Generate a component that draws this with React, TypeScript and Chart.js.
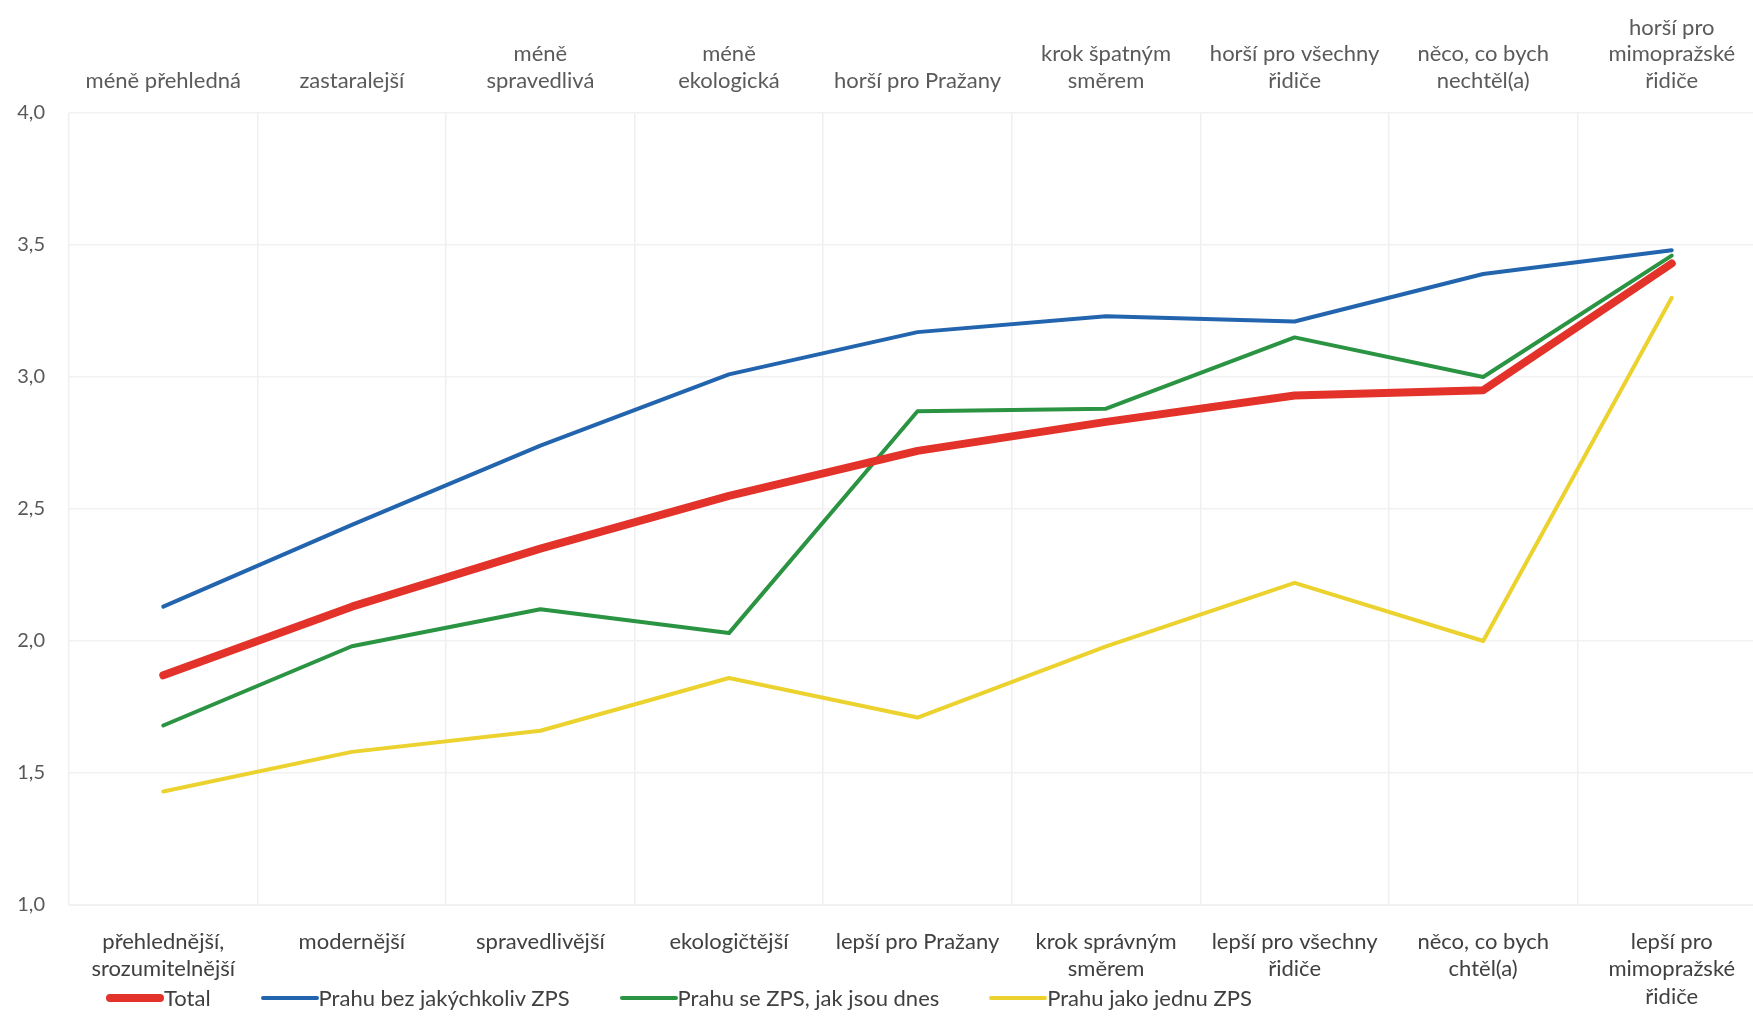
import React, { useEffect, useRef } from "react";
import { Chart, registerables } from "chart.js";

Chart.register(...registerables);

const bottomLabels: (string | string[])[] = [
  ["přehlednější,", "srozumitelnější"],
  "modernější",
  "spravedlivější",
  "ekologičtější",
  "lepší pro Pražany",
  ["krok správným", "směrem"],
  ["lepší pro všechny", "řidiče"],
  ["něco, co bych", "chtěl(a)"],
  ["lepší pro", "mimopražské", "řidiče"],
];

const topLabels: (string | string[])[] = [
  "méně přehledná",
  "zastaralejší",
  ["méně", "spravedlivá"],
  ["méně", "ekologická"],
  "horší pro Pražany",
  ["krok špatným", "směrem"],
  ["horší pro všechny", "řidiče"],
  ["něco, co bych", "nechtěl(a)"],
  ["horší pro", "mimopražské", "řidiče"],
];

const totalValues = [1.87, 2.13, 2.35, 2.55, 2.72, 2.83, 2.93, 2.95, 3.43];
const bezZpsValues = [2.13, 2.44, 2.74, 3.01, 3.17, 3.23, 3.21, 3.39, 3.48];
const seZpsValues = [1.68, 1.98, 2.12, 2.03, 2.87, 2.88, 3.15, 3.0, 3.46];
const jednaZpsValues = [1.43, 1.58, 1.66, 1.86, 1.71, 1.98, 2.22, 2.0, 3.3];

const seriesNames = [
  "Total",
  "Prahu bez jakýchkoliv ZPS",
  "Prahu se ZPS, jak jsou dnes",
  "Prahu jako jednu ZPS",
];
const seriesColors = ["#e2322a", "#2264ad", "#2b9443", "#ecd22e"];
const seriesWidths = [8, 4, 4, 4];

const yTicks = [1.0, 1.5, 2.0, 2.5, 3.0, 3.5, 4.0];

const FONT = "Lato, 'Open Sans', sans-serif";

export default function App() {
  const canvasRef = useRef<HTMLCanvasElement | null>(null);

  useEffect(() => {
    document.body.style.margin = "0";
    const ctx = canvasRef.current;
    if (!ctx) return;
    const values = [totalValues, bezZpsValues, seZpsValues, jednaZpsValues];
    const chart = new Chart(ctx, {
      type: "line",
      data: {
        labels: bottomLabels as any,
        datasets: values.map((v, i) => ({
          label: seriesNames[i],
          data: v,
          borderColor: seriesColors[i],
          backgroundColor: seriesColors[i],
          borderWidth: seriesWidths[i],
          pointRadius: 0,
          pointHoverRadius: 0,
          tension: 0,
          borderCapStyle: "round",
          borderJoinStyle: "round",
          fill: false,
        })),
      },
      options: {
        animation: false,
        responsive: true,
        maintainAspectRatio: false,
        layout: { padding: 0 },
        plugins: {
          legend: { display: false },
          tooltip: { enabled: false },
        },
        scales: {
          x: {
            type: "category",
            position: "bottom",
            offset: true,
            grid: { color: "#efefef", lineWidth: 1.5, drawTicks: false, offset: true },
            border: { display: true, color: "#efefef" },
            ticks: {
              autoSkip: false,
              maxRotation: 0,
              minRotation: 0,
              padding: 23,
              color: "#404040",
              font: { family: FONT, size: 22, lineHeight: 1.25 },
            },
            afterFit: (s: any) => {
              s.height = 113;
            },
          },
          x2: {
            type: "category",
            position: "top",
            labels: topLabels as any,
            offset: true,
            grid: { display: false, drawTicks: false },
            border: { display: false },
            ticks: {
              autoSkip: false,
              maxRotation: 0,
              minRotation: 0,
              padding: 19,
              color: "#5a5a5a",
              font: { family: FONT, size: 22, lineHeight: 1.2 },
            },
            afterFit: (s: any) => {
              s.height = 113;
            },
          },
          y: {
            type: "linear",
            min: 1,
            max: 4,
            afterBuildTicks: (s: any) => {
              s.ticks = yTicks.map((v) => ({ value: v }));
            },
            grid: { color: "#f2f2f2", lineWidth: 1.5, drawTicks: false },
            border: { display: false },
            ticks: {
              padding: 24,
              color: "#595959",
              font: { family: FONT, size: 20 },
              callback: (v: any) => Number(v).toFixed(1).replace(".", ","),
            },
            afterFit: (s: any) => {
              s.width = 69;
            },
          },
        },
      },
    });
    return () => chart.destroy();
  }, []);

  return (
    <div
      style={{
        position: "relative",
        width: 1753,
        height: 1018,
        overflow: "hidden",
        background: "#ffffff",
      }}
    >
      <div style={{ position: "absolute", left: 0, top: 0, width: 1766, height: 1018 }}>
        <canvas ref={canvasRef} />
      </div>
      <div
        style={{
          position: "absolute",
          left: 106,
          top: 985,
          display: "flex",
          alignItems: "center",
          gap: 50,
          fontFamily: FONT,
          fontSize: 22,
          color: "#404040",
          whiteSpace: "nowrap",
          lineHeight: "26px",
        }}
      >
        {seriesNames.map((name, i) => (
          <div key={name} style={{ display: "flex", alignItems: "center" }}>
            <span
              style={{
                display: "inline-block",
                width: 58,
                height: seriesWidths[i],
                borderRadius: seriesWidths[i] / 2,
                background: seriesColors[i],
              }}
            />
            <span>{name}</span>
          </div>
        ))}
      </div>
    </div>
  );
}
